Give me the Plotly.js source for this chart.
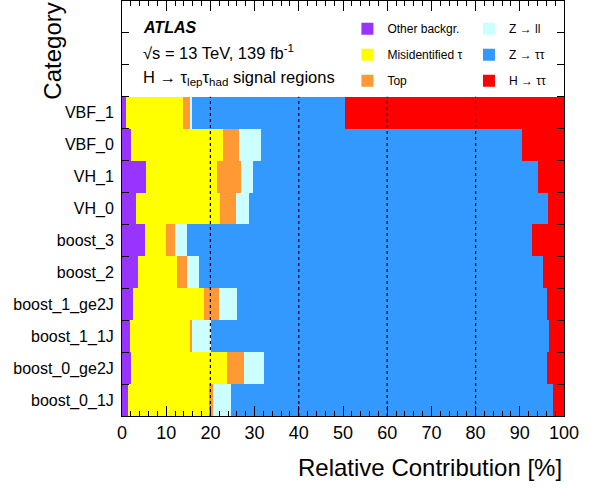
<!DOCTYPE html>
<html>
<head>
<meta charset="utf-8">
<script src="https://cdn.plot.ly/plotly-3.0.1.min.js"></script>
<style>html,body{margin:0;padding:0;background:#fff;}#chart{width:605px;height:495px;}</style>
</head>
<body>
<div id="chart"></div>
<script>
// Categories, bottom to top
const categories = ["boost_0_1J","boost_0_ge2J","boost_1_1J","boost_1_ge2J","boost_2","boost_3","VH_0","VH_1","VBF_0","VBF_1"];
// Relative contributions [%]
const otherBkg = [1.4, 2.0, 1.7, 2.6, 3.6, 5.1, 3.1, 5.4, 2.1, 0.9];
const misidTau = [18.2, 21.7, 13.6, 15.9, 8.9, 4.8, 19.0, 16.1, 20.8, 12.9];
const topBkg   = [1.1, 3.9, 0.6, 3.5, 2.1, 2.2, 3.6, 5.5, 3.6, 1.5];
const zll      = [4.0, 4.6, 4.2, 4.1, 2.8, 2.5, 3.1, 2.7, 4.9, 0.6];
const ztautau  = [72.8, 64.0, 76.5, 70.0, 77.8, 78.2, 67.6, 64.4, 59.0, 34.5];
const htautau  = [2.5, 3.8, 3.4, 3.9, 4.8, 7.2, 3.6, 5.9, 9.6, 49.6];
const refLines = [20, 40, 60, 80];

const FONT = "Liberation Sans, Arial, sans-serif";
const pos = categories.map((c, i) => i);

function mk(name, vals, color, legend) {
  return {
    type: "bar", orientation: "h", name: name, x: vals, y: pos,
    marker: {color: color, line: {width: 0}},
    legend: legend, legendgroup: name,
    hovertemplate: "%{x}%<extra>" + name + "</extra>"
  };
}

const traces = [
  mk("Other backgr.", otherBkg, "#9933ff", "legend"),
  mk("Misidentified τ", misidTau, "#ffff00", "legend"),
  mk("Top", topBkg, "#ff9933", "legend"),
  mk("Z → ll", zll, "#ccffff", "legend2"),
  mk("Z → ττ", ztautau, "#3399ff", "legend2"),
  mk("H → ττ", htautau, "#ff0000", "legend2")
];

const shapes = refLines.map(v => ({
  type: "line", xref: "x", yref: "y", x0: v, x1: v, y0: -0.5, y1: categories.length - 0.5,
  line: {color: "#000033", width: 1.2, dash: "3px,3px"}, layer: "above"
}));

const layout = {
  width: 605, height: 495,
  margin: {l: 122, r: 41, t: 1, b: 79},
  paper_bgcolor: "#fff", plot_bgcolor: "#fff",
  barmode: "stack", bargap: 0,
  font: {family: FONT, color: "#000", size: 12},
  showlegend: true,
  xaxis: {
    range: [0, 100], dtick: 10, tick0: 0,
    ticks: "inside", ticklen: 10, tickwidth: 1, tickcolor: "#000",
    minor: {dtick: 2, ticks: "inside", ticklen: 5, tickcolor: "#000", showgrid: false},
    showline: true, linecolor: "#000", linewidth: 1, mirror: "ticks",
    showgrid: false, zeroline: false,
    tickfont: {size: 18, family: FONT},
    fixedrange: true
  },
  yaxis: {
    range: [-0.5, 12.5],
    tickvals: pos, ticktext: categories,
    ticks: "inside", ticklen: 0, tickcolor: "#000",
    minor: {tick0: -0.5, dtick: 1, ticks: "inside", ticklen: 7, tickcolor: "#000", showgrid: false},
    showline: true, linecolor: "#000", linewidth: 1, mirror: "ticks",
    showgrid: false, zeroline: false,
    tickfont: {size: 16, family: FONT},
    ticklabelstandoff: 4,
    fixedrange: true
  },
  legend: {
    x: 0.51, y: 0.968, xanchor: "left", yanchor: "top",
    bgcolor: "rgba(0,0,0,0)", font: {size: 12, family: FONT},
    traceorder: "grouped", tracegroupgap: 7, itemwidth: 30
  },
  legend2: {
    x: 0.785, y: 0.968, xanchor: "left", yanchor: "top",
    bgcolor: "rgba(0,0,0,0)", font: {size: 12, family: FONT},
    traceorder: "grouped", tracegroupgap: 7, itemwidth: 30
  },
  shapes: shapes,
  annotations: [
    {xref: "paper", yref: "paper", x: 0.043, y: 0.937, xanchor: "left", yanchor: "middle", showarrow: false,
     text: "<b><i>ATLAS</i></b>", font: {size: 16, family: FONT}},
    {xref: "paper", yref: "paper", x: 0.043, y: 0.877, xanchor: "left", yanchor: "middle", showarrow: false,
     text: "√s = 13 TeV, 139 fb<sup>-1</sup>", font: {size: 16.5, family: FONT}},
    {xref: "paper", yref: "paper", x: 0.043, y: 0.815, xanchor: "left", yanchor: "middle", showarrow: false,
     text: "H → τ<sub>lep</sub>τ<sub>had</sub> signal regions", font: {size: 16.5, family: FONT}},
    {xref: "paper", yref: "paper", x: -0.158, y: 1.0, xanchor: "center", yanchor: "top", textangle: -90, showarrow: false,
     text: "Category", font: {size: 24, family: FONT}},
    {xref: "paper", yref: "paper", x: 1.0, y: -0.123, xanchor: "right", yanchor: "middle", showarrow: false,
     text: "Relative Contribution [%]", font: {size: 24, family: FONT}}
  ]
};

Plotly.newPlot("chart", traces, layout, {displayModeBar: false, staticPlot: true});
</script>
</body>
</html>
